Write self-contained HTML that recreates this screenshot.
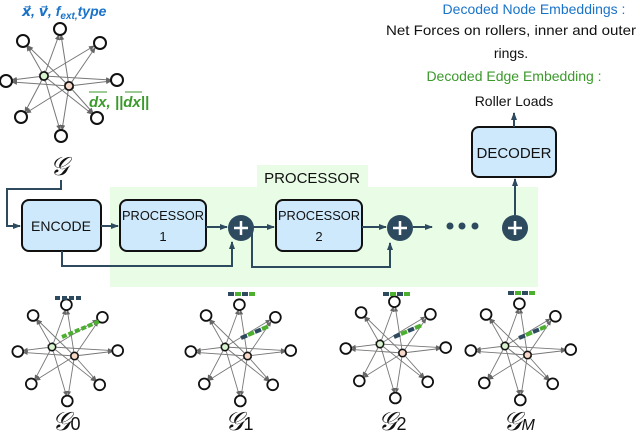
<!DOCTYPE html>
<html><head><meta charset="utf-8"><style>
body{margin:0;background:#fff;width:640px;height:440px;overflow:hidden}
svg{display:block}
text{font-family:"Liberation Sans",sans-serif}
</style></head><body>
<svg width="640" height="440" viewBox="0 0 640 440">
<defs>
<marker id="a" markerWidth="6" markerHeight="6" refX="5" refY="3" orient="auto" markerUnits="userSpaceOnUse"><path d="M0,0.5L6,3L0,5.5z" fill="#666"/></marker>
<marker id="b" markerWidth="8" markerHeight="8" refX="7" refY="4" orient="auto" markerUnits="userSpaceOnUse"><path d="M0,1L8,4L0,7z" fill="#2e4a5e"/></marker>
<g id="g">
<g stroke="#777" stroke-width="1" marker-end="url(#a)" marker-start="url(#a)">
<line x1="0" y1="0" x2="15" y2="-41"/><line x1="0" y1="0" x2="-17" y2="-30"/><line x1="0" y1="0" x2="50" y2="-30"/><line x1="0" y1="0" x2="-32" y2="4"/><line x1="0" y1="0" x2="67" y2="4"/><line x1="0" y1="0" x2="-19" y2="36"/><line x1="0" y1="0" x2="48" y2="38"/><line x1="0" y1="0" x2="16" y2="54"/>
<line x1="25" y1="10" x2="17" y2="-41"/><line x1="25" y1="10" x2="-16" y2="-30"/><line x1="25" y1="10" x2="51" y2="-28"/><line x1="25" y1="10" x2="-32" y2="6"/><line x1="25" y1="10" x2="67" y2="5"/><line x1="25" y1="10" x2="-18" y2="37"/><line x1="25" y1="10" x2="49" y2="37"/><line x1="25" y1="10" x2="18" y2="54"/>
</g>
<g fill="#fff" stroke="#111" stroke-width="2">
<circle cx="16" cy="-47" r="6"/><circle cx="-21" cy="-35" r="6"/><circle cx="56" cy="-33" r="6"/><circle cx="-38" cy="5" r="6"/><circle cx="73" cy="4" r="6"/><circle cx="-23" cy="41" r="6"/><circle cx="53" cy="42" r="6"/><circle cx="17" cy="60" r="6"/>
</g>
<circle cx="0" cy="0" r="4" fill="#d8f5d0" stroke="#111" stroke-width="1.5"/>
<circle cx="25" cy="10" r="4" fill="#f8d8c8" stroke="#111" stroke-width="1.5"/>
</g>
</defs>
<use href="#g" x="44" y="76"/>
<text x="22" y="16" font-family="Liberation Serif" font-style="italic" font-weight="bold" font-size="14" fill="#1a73c8">x⃗, v⃗, f<tspan font-size="10" dy="3">ext,</tspan><tspan dy="-3">type</tspan></text>
<text x="89" y="107" font-family="Liberation Serif" font-style="italic" font-weight="bold" font-size="15" fill="#3a9a2a">dx, ||dx||</text>
<line x1="89" y1="92" x2="107" y2="92" stroke="#3a9a2a"/><line x1="125" y1="92" x2="142" y2="92" stroke="#3a9a2a"/>
<text x="50" y="175" font-family="Liberation Serif" font-style="italic" font-size="26" fill="#111">𝒢</text>
<rect x="110" y="187" width="428" height="100" fill="#e8fce6"/>
<rect x="257" y="165" width="111" height="22" fill="#e8fce6"/>
<text x="312" y="183" text-anchor="middle" font-size="15" fill="#111">PROCESSOR</text>
<g fill="#cde9fb" stroke="#111" stroke-width="2">
<rect x="22" y="200" width="79" height="51" rx="7"/>
<rect x="120" y="200" width="86" height="51" rx="7"/>
<rect x="276" y="200" width="86" height="51" rx="7"/>
<rect x="472" y="127" width="84" height="50" rx="7"/>
</g>
<text x="61" y="231" text-anchor="middle" font-size="14" fill="#111">ENCODE</text>
<text x="163" y="220" text-anchor="middle" font-size="13" fill="#111" textLength="82" lengthAdjust="spacingAndGlyphs">PROCESSOR</text>
<text x="163" y="241" text-anchor="middle" font-size="13" fill="#111">1</text>
<text x="319" y="220" text-anchor="middle" font-size="13" fill="#111" textLength="82" lengthAdjust="spacingAndGlyphs">PROCESSOR</text>
<text x="319" y="241" text-anchor="middle" font-size="13" fill="#111">2</text>
<text x="514" y="158" text-anchor="middle" font-size="15" fill="#111">DECODER</text>
<g stroke="#2e4a5e" stroke-width="2" fill="none">
<polyline points="61,180 61,189 7,189 7,226 20,226" marker-end="url(#b)"/>
<line x1="101" y1="226" x2="118" y2="226" marker-end="url(#b)"/>
<line x1="206" y1="227" x2="227" y2="227" marker-end="url(#b)"/>
<polyline points="62,251 62,266 232,266 232,242" marker-end="url(#b)"/>
<line x1="253" y1="227" x2="274" y2="227" marker-end="url(#b)"/>
<polyline points="252,229 252,267 390,267 390,243" marker-end="url(#b)"/>
<line x1="362" y1="227" x2="386" y2="227" marker-end="url(#b)"/>
<line x1="413" y1="227" x2="432" y2="227" marker-end="url(#b)"/>
<line x1="515" y1="215" x2="515" y2="179" marker-end="url(#b)"/>
<line x1="514" y1="127" x2="514" y2="113" marker-end="url(#b)"/>
</g>
<g fill="#2e4a5e"><circle cx="241" cy="228" r="13"/><circle cx="400" cy="228" r="13"/><circle cx="515" cy="228" r="13"/>
<circle cx="450" cy="226" r="3.5"/><circle cx="462" cy="226" r="3.5"/><circle cx="475" cy="226" r="3.5"/></g>
<g stroke="#fff" stroke-width="2.5"><path d="M234,228h14M241,221v14"/><path d="M393,228h14M400,221v14"/><path d="M508,228h14M515,221v14"/></g>
<text x="534" y="14" text-anchor="middle" font-size="14" fill="#1a73c8">Decoded Node Embeddings :</text>
<text x="511" y="35" text-anchor="middle" font-size="14" fill="#111" textLength="250" lengthAdjust="spacingAndGlyphs">Net Forces on rollers, inner and outer</text>
<text x="511" y="58" text-anchor="middle" font-size="14" fill="#111">rings.</text>
<text x="514" y="81" text-anchor="middle" font-size="14" fill="#3a9a2a">Decoded Edge Embedding :</text>
<text x="514" y="106" text-anchor="middle" font-size="14" fill="#111">Roller Loads</text>
<g transform="translate(52,347) scale(0.9)"><use href="#g"/></g>
<g transform="translate(225,347) scale(0.9)"><use href="#g"/></g>
<g transform="translate(380,344) scale(0.9)"><use href="#g"/></g>
<g transform="translate(505,346) scale(0.9)"><use href="#g"/></g>
<g stroke-width="4" stroke-dasharray="5,2">
<line x1="55" y1="298" x2="82" y2="298" stroke="#2e4a5e"/>
<line x1="62" y1="337" x2="100" y2="321" stroke="#4caf30"/>
</g>
<g stroke-width="4">
<path d="M228,294h6M242,294h6" stroke="#2e4a5e"/><path d="M235,294h6M249,294h6" stroke="#4caf30"/>
<path d="M383,294h6M397,294h6" stroke="#2e4a5e"/><path d="M390,294h6M404,294h6" stroke="#4caf30"/>
<path d="M508,293h6M522,293h6" stroke="#2e4a5e"/><path d="M515,293h6M529,293h6" stroke="#4caf30"/>
<path d="M241,338l6,-2.5M255,332l6,-2.5" stroke="#2e4a5e"/><path d="M248,335l6,-2.5M262,329l6,-2.5" stroke="#4caf30"/>
<path d="M394,337l6,-2.5M408,331l6,-2.5" stroke="#2e4a5e"/><path d="M401,334l6,-2.5M415,328l6,-2.5" stroke="#4caf30"/>
<path d="M519,338l6,-2.5M533,332l6,-2.5" stroke="#2e4a5e"/><path d="M526,335l6,-2.5M540,329l6,-2.5" stroke="#4caf30"/>
</g>
<g font-family="Liberation Serif" font-style="italic" font-size="26" fill="#111">
<text x="52" y="430">𝒢<tspan font-style="normal" font-size="18">0</tspan></text>
<text x="225" y="430">𝒢<tspan font-style="normal" font-size="18">1</tspan></text>
<text x="378" y="430">𝒢<tspan font-style="normal" font-size="18">2</tspan></text>
<text x="503" y="430">𝒢<tspan font-size="16">M</tspan></text>
</g>
</svg>
</body></html>
